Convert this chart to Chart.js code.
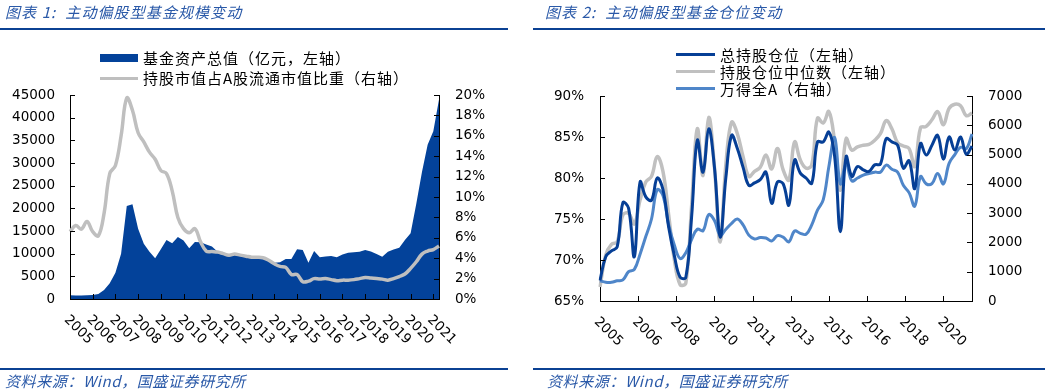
<!DOCTYPE html>
<html lang="zh">
<head>
<meta charset="utf-8">
<title>主动偏股型基金规模与仓位变动</title>
<script src="https://cdn.jsdelivr.net/npm/chart.js@4.4.1/dist/chart.umd.min.js"></script>
<style>
    html, body { margin: 0; padding: 0; background: #fff; }
    #page { position: relative; width: 1045px; height: 390px; overflow: hidden; font-family: "Noto Sans CJK SC", sans-serif; }
    .panel { position: absolute; top: 0; height: 390px; }
    .panel canvas { position: absolute; left: 0; top: 0; }
    .title { position: absolute; top: 1px; font-size: 15px; font-style: italic; color: #2a59a8; white-space: nowrap; letter-spacing: 1.1px; }
    .source { position: absolute; top: 370px; font-size: 15px; font-style: italic; color: #2a59a8; white-space: nowrap; letter-spacing: 0.6px; }
    .rule { position: absolute; height: 2px; background: #0b4193; }
    .legend { position: absolute; font-size: 15px; color: #000; white-space: nowrap; letter-spacing: 1px; }
    .legend .row { display: flex; align-items: center; }
    .legend .sw { margin-right: 5px; }
</style>
</head>
<body>
<div id="page">
    <div class="panel" style="left:0; width:520px;"><canvas id="sizeChart" width="520" height="390"></canvas></div>
    <div class="panel" style="left:520px; width:525px;"><canvas id="posChart" width="525" height="390"></canvas></div>

    <div class="title" style="left:5px;">图表 1:&nbsp; 主动偏股型基金规模变动</div>
    <div class="rule" style="left:0; top:28px; width:508px;"></div>
    <div class="title" style="left:545px;">图表 2:&nbsp; 主动偏股型基金仓位变动</div>
    <div class="rule" style="left:533px; top:28px; width:512px;"></div>

    <div class="legend" id="sizeLegend" style="left:100px; top:48px;"></div>
    <div class="legend" id="posLegend" style="left:676px; top:46px;"></div>

    <div class="rule" style="left:0; top:368px; width:508px;"></div>
    <div class="source" style="left:5px;">资料来源：Wind，国盛证券研究所</div>
    <div class="rule" style="left:533px; top:368px; width:512px;"></div>
    <div class="source" style="left:547px;">资料来源：Wind，国盛证券研究所</div>
</div>

<script>
// quarterly categories, 2005Q1 .. 2021Q2
const quarters = [];
for (let y = 2005; y <= 2021; y++) {
    for (let q = 1; q <= 4; q++) quarters.push(y + 'Q' + q);
}
quarters.length = 66;

// chart 1: fund size (亿元) and share of A-share float cap (%)
const fundSize = [
    800, 750, 750, 800, 900, 1100, 2000, 3500, 5800, 10000,
    20500, 20900, 15500, 12200, 10400, 9000, 11000, 13000, 12300, 13700,
    12900, 11200, 12600, 12500, 12000, 11600, 10400, 10000, 9700, 10000,
    9500, 9300, 9100, 9200, 9300, 8700, 8000, 8100, 8800, 8800,
    11000, 10800, 8000, 10600, 9200, 9400, 9500, 9200, 9800, 10200,
    10300, 10400, 10800, 10500, 9900, 9300, 10400, 10900, 11300, 13000,
    14500, 21000, 28000, 34000, 37000, 44000
];
const holdShare = [
    6.6, 7.2, 6.85, 7.6, 6.6, 6.2, 8.4, 12.3, 13.1, 16.0,
    19.7, 18.5, 16.3, 15.4, 14.4, 13.7, 12.6, 12.3, 10.6, 8.0,
    6.9, 6.5, 6.9, 5.6, 4.7, 4.65, 4.6, 4.45, 4.3, 4.4,
    4.3, 4.2, 4.1, 4.1, 4.05, 3.8, 3.45, 3.2, 3.1, 2.4,
    2.4, 1.7, 1.75, 2.0, 1.95, 2.0, 1.9, 1.8, 1.85, 1.85,
    1.9, 2.0, 2.1, 2.05, 2.0, 1.95, 1.85, 2.0, 2.2, 2.45,
    3.0, 3.65, 4.4, 4.7, 4.85, 5.2
];
const sizeTickLabels = ['2005', '2006', '2007', '2008', '2009', '2010', '2011', '2012', '2013',
    '2014', '2015', '2016', '2017', '2018', '2019', '2020', '2021'];

// chart 2: positions (%) and Wind All A index
const totalPos = [
    67.5, 70.4, 71.1, 71.6, 77.0, 76.3, 70.4, 79.5, 77.7, 77.3,
    80.0, 78.6, 74.0, 70.5, 67.9, 67.9, 75.2, 84.6, 80.7, 86.0,
    81.3, 72.8, 80.1, 85.2, 83.6, 81.3, 79.1, 79.4, 79.8, 80.7,
    76.9, 79.5, 79.3, 76.7, 82.2, 80.6, 80.0, 79.35, 84.4, 84.4,
    85.6, 82.6, 73.45, 82.6, 80.2, 81.4, 81.0, 80.8, 81.6, 81.7,
    84.8, 84.4, 84.0, 81.2, 82.1, 78.7, 84.2, 82.8, 84.0, 85.2,
    82.3, 85.0, 83.4, 85.0, 82.9, 83.9
];
const medianPos = [
    66.7, 70.6, 71.9, 72.2, 75.5, 75.7, 74.4, 77.3, 79.5, 80.2,
    82.6, 80.8, 75.5, 70.0, 67.0, 67.2, 76.5, 86.0, 80.3, 87.4,
    81.3, 72.2, 81.7, 86.8, 85.4, 82.6, 80.2, 80.8, 81.3, 82.8,
    81.1, 83.6, 81.0, 79.75, 84.4, 82.2, 81.2, 81.6, 87.3, 86.7,
    88.1, 84.4, 78.5, 84.8, 83.4, 83.8, 84.0, 84.1, 84.6, 85.4,
    87.0, 86.0, 84.3, 83.9, 83.6, 81.4, 86.1, 86.3, 87.1, 88.1,
    86.5, 88.5, 89.0, 88.8, 87.6, 87.9
];
const windA = [
    690, 640, 640, 690, 720, 1000, 1080, 1600, 2200, 2800,
    3800, 3600, 2600, 1900, 1450, 1650, 2100, 2450, 2400, 2950,
    2750, 2250, 2450, 2650, 2800, 2600, 2250, 2120, 2170, 2150,
    2050, 2230, 2180, 2020, 2390, 2310, 2280, 2600, 3100, 3450,
    4600, 5580, 4000, 4700, 4100, 4200, 4300, 4350, 4400, 4400,
    4640, 4500, 4400, 3950, 3700, 3240, 4250, 4000, 4010, 4350,
    4000, 4700, 5000, 5250, 5200, 5700
];
const posTickLabels = ['2005', '2006', '2008', '2010', '2011', '2013', '2015', '2016', '2018', '2020'];

const NUM_FONT = { family: '"DejaVu Sans", Verdana, sans-serif', size: 13.5 };

// inward tick marks + year labels rotated clockwise, as in the source
const axisMarks = {
    id: 'axisMarks',
    afterDraw(chart, args, opts) {
        const { ctx, chartArea: a, scales } = chart;
        ctx.save();
        ctx.strokeStyle = '#000';
        ctx.lineWidth = 1;
        ctx.beginPath();
        ['y', 'y1'].forEach(id => {
            const s = scales[id];
            const x0 = id === 'y' ? a.left : a.right;
            const dir = id === 'y' ? 1 : -1;
            s.ticks.forEach(t => {
                const py = Math.round(s.getPixelForValue(t.value)) + 0.5;
                ctx.moveTo(x0, py);
                ctx.lineTo(x0 + dir * 5, py);
            });
        });
        const sx = scales.x;
        opts.positions.forEach(p => {
            const px = Math.round(sx.getPixelForValue(p)) + 0.5;
            ctx.moveTo(px, a.bottom);
            ctx.lineTo(px, a.bottom - 5);
        });
        ctx.stroke();

        ctx.font = `${NUM_FONT.size}px ${NUM_FONT.family}`;
        ctx.fillStyle = '#000';
        ctx.textAlign = 'left';
        ctx.textBaseline = 'top';
        opts.labels.forEach((lab, k) => {
            const px = sx.getPixelForValue(opts.positions[k]);
            ctx.save();
            ctx.translate(px + 1, a.bottom + 14);
            ctx.rotate(Math.PI / 4);
            ctx.fillText(lab, 0, 0);
            ctx.restore();
        });
        ctx.restore();
    }
};

const yAxis = (opts, width, pad, cb) => Object.assign({
    grid: { display: false, drawTicks: false },
    border: { display: true, color: '#000', width: 1 },
    ticks: { font: NUM_FONT, color: '#000', padding: pad, callback: cb },
    afterFit: s => { s.width = width; }
}, opts);

const xAxis = height => ({
    type: 'category',
    grid: { display: false, drawTicks: false },
    border: { display: true, color: '#000', width: 1 },
    ticks: { display: false },
    afterFit: s => { s.height = height; }
});

const baseOptions = (top, scales, marks) => ({
    responsive: false,
    animation: false,
    devicePixelRatio: 1,
    layout: { padding: { top: top, left: 0, right: 0, bottom: 0 } },
    plugins: { legend: { display: false }, tooltip: { enabled: false }, axisMarks: marks },
    elements: { point: { radius: 0 } },
    scales: scales
});

const initSizeChart = () => {
    const ctx = document.getElementById('sizeChart').getContext('2d');
    return new Chart(ctx, {
        type: 'line',
        data: {
            labels: quarters,
            datasets: [
                {
                    label: '基金资产总值（亿元，左轴）',
                    data: fundSize,
                    yAxisID: 'y',
                    fill: 'origin',
                    backgroundColor: '#03429a',
                    borderColor: '#03429a',
                    borderWidth: 0,
                    tension: 0,
                    order: 1,
                    swatch: 'box'
                },
                {
                    label: '持股市值占A股流通市值比重（右轴）',
                    data: holdShare,
                    yAxisID: 'y1',
                    fill: false,
                    borderColor: '#bfbfbf',
                    borderWidth: 3.5,
                    tension: 0.4,
                    order: 0,
                    swatch: 'line'
                }
            ]
        },
        options: baseOptions(95, {
            x: xAxis(91),
            y: yAxis({ position: 'left', min: 0, max: 45000 }, 70, 15, v => String(v)),
            y1: yAxis({ position: 'right', min: 0, max: 20 }, 81, 16, v => v + '%')
        }, { positions: sizeTickLabels.map((_, k) => k * 4), labels: sizeTickLabels }),
        plugins: [axisMarks]
    });
};

const initPosChart = () => {
    const ctx = document.getElementById('posChart').getContext('2d');
    return new Chart(ctx, {
        type: 'line',
        data: {
            labels: quarters,
            datasets: [
                {
                    label: '总持股仓位（左轴）',
                    data: totalPos,
                    yAxisID: 'y',
                    borderColor: '#063f96',
                    borderWidth: 3,
                    tension: 0.4,
                    order: 0,
                    swatch: 'line'
                },
                {
                    label: '持股仓位中位数（左轴）',
                    data: medianPos,
                    yAxisID: 'y',
                    borderColor: '#c0c0c0',
                    borderWidth: 3.5,
                    tension: 0.4,
                    order: 2,
                    swatch: 'line'
                },
                {
                    label: '万得全A（右轴）',
                    data: windA,
                    yAxisID: 'y1',
                    borderColor: '#4f86c9',
                    borderWidth: 3,
                    tension: 0.4,
                    order: 1,
                    swatch: 'line'
                }
            ]
        },
        options: baseOptions(96, {
            x: xAxis(89),
            y: yAxis({ position: 'left', min: 65, max: 90 }, 80, 16, v => v + '%'),
            y1: yAxis({ position: 'right', min: 0, max: 7000 }, 73, 16, v => String(v))
        }, { positions: posTickLabels.map((_, k) => k * 20 / 3), labels: posTickLabels }),
        plugins: [axisMarks]
    });
};

const renderLegend = (chart, el, rowH, swW) => {
    el.innerHTML = chart.data.datasets.map(ds => {
        const h = ds.swatch === 'box' ? 8 : 3;
        const color = ds.swatch === 'box' ? ds.backgroundColor : ds.borderColor;
        return `<div class="row" style="height:${rowH}px;line-height:${rowH}px;">
            <span class="sw" style="display:inline-block;width:${swW}px;height:${h}px;background:${color};"></span>
            <span>${ds.label}</span>
        </div>`;
    }).join('');
};

const sizeChart = initSizeChart();
const posChart = initPosChart();
renderLegend(sizeChart, document.getElementById('sizeLegend'), 20, 38);
renderLegend(posChart, document.getElementById('posLegend'), 17, 39);
</script>
</body>
</html>
